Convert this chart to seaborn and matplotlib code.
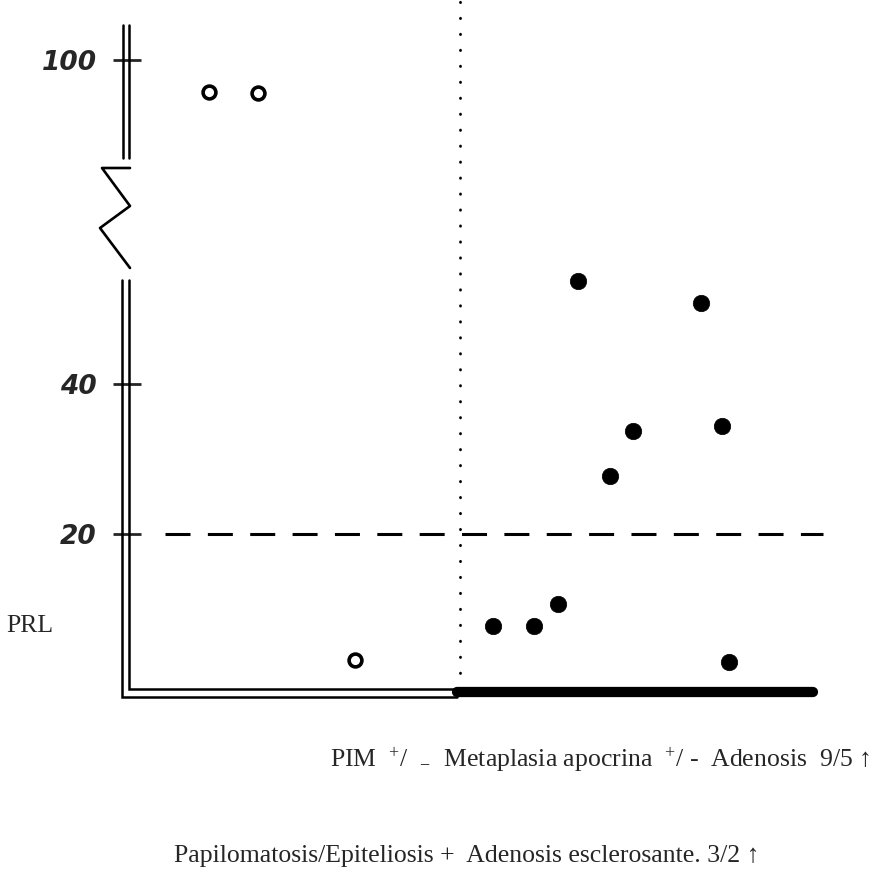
import numpy as np
import pandas as pd
import matplotlib
matplotlib.use("Agg")
import matplotlib.pyplot as plt
from matplotlib.transforms import Affine2D
import seaborn as sns

# ---------------- data ----------------
open_x = [1.25, 1.95, 3.34]
open_prl = [95.7, 95.6, 3.2]
fill_x = [5.31, 5.89, 6.24, 6.52, 6.98, 7.31, 8.28, 8.58, 8.68]
fill_prl = [7.7, 7.7, 10.7, 53.7, 27.7, 33.7, 50.8, 34.4, 2.9]
ytick_vals = [20, 40, 100]
ytick_labels = ["20", "40", "100"]
threshold = 20
divider_x = 4.84
y_label = "PRL"
caption1 = r"PIM  $^{+}$/  $_{-}$  Metaplasia apocrina  $^{+}$/ -  Adenosis  9/5 ↑"
caption2 = "Papilomatosis/Epiteliosis +  Adenosis esclerosante. 3/2 ↑"

df_open = pd.DataFrame({"x": open_x, "PRL": open_prl})
df_fill = pd.DataFrame({"x": fill_x, "PRL": fill_prl})

sns.set_style("white")
plt.rcParams["lines.scale_dashes"] = False
plt.rcParams["mathtext.fontset"] = "custom"
plt.rcParams["mathtext.rm"] = "Liberation Serif"
plt.rcParams["mathtext.it"] = "Liberation Serif:italic"

W, H = 887, 871
fig = plt.figure(figsize=(W / 100, H / 100), dpi=100)
ax = fig.add_axes([0, 0, 1, 1])

# broken y axis: piecewise-linear scale that hides 55..85
def fwd(v):
    v = np.asarray(v, dtype=float)
    return np.where(v <= 55, v, np.where(v >= 85, v - 16.8, 55 + (v - 55) * (13.2 / 30)))

def inv(t):
    t = np.asarray(t, dtype=float)
    return np.where(t <= 55, t, np.where(t >= 68.2, t + 16.8, 55 + (t - 55) * (30 / 13.2)))

ax.set_yscale("function", functions=(fwd, inv))
ax.set_xlim(-1.736, 10.936)
ax.set_ylim(-24.93, 108.0)

# pixel transform for decorations
pix = Affine2D().scale(1 / W, -1 / H).translate(0, 1) + fig.transFigure

# points
sns.scatterplot(data=df_open, x="x", y="PRL", ax=ax, s=85, color="white",
                edgecolor="black", linewidth=2.6, zorder=5, legend=False)
sns.scatterplot(data=df_fill, x="x", y="PRL", ax=ax, s=140, color="black",
                edgecolor="black", linewidth=0.5, zorder=5, legend=False)

# threshold dashed line
ax.plot([0.62, 10.02], [threshold, threshold], color="black", lw=2.2,
        dashes=[18, 12.5], solid_capstyle="butt")

# dotted divider
ax.plot([divider_x, divider_x], [1.5, 108.0], color="black", lw=2.0,
        dashes=[0.3, 11.2], dash_capstyle="round")

# double axis lines (lower part)
lw_ax = 1.8
ax.plot([0.0, 0.0, divider_x - 0.05], [53.9, -1.73, -1.73], color="black", lw=lw_ax,
        solid_joinstyle="miter")
ax.plot([0.1, 0.1, divider_x - 0.05], [53.9, -0.67, -0.67], color="black", lw=lw_ax,
        solid_joinstyle="miter")
# upper part
ax.plot([0.02, 0.02], [86.9, 104.7], color="black", lw=lw_ax)
ax.plot([0.11, 0.11], [86.9, 104.7], color="black", lw=lw_ax)
# thick bar for second group
ax.plot([divider_x - 0.05, 9.88], [-1.1, -1.1], color="black", lw=7.4,
        solid_capstyle="round")

# zigzag break mark
zz_x = [130, 102, 130, 100, 130]
zz_y = [168, 168, 206, 228, 268]
ax.plot(zz_x, zz_y, color="black", lw=1.9, transform=pix, clip_on=False)

# ticks
for s in ax.spines.values():
    s.set_visible(False)
ax.spines["left"].set_position(("data", 0.08))
ax.set_yticks(ytick_vals)
ax.set_yticklabels(ytick_labels, fontstyle="italic", fontweight="bold",
                   fontfamily="DejaVu Sans")
ax.set_xticks([])
ax.tick_params(axis="y", direction="inout", length=20, width=2.0, pad=12,
               labelsize=19, left=True)
ax.yaxis.set_minor_locator(matplotlib.ticker.NullLocator())
ax.set_xlabel("")
ax.set_ylabel("")

# texts
serif = ["Liberation Serif", "DejaVu Serif"]
fig.text(6 / W, 1 - 632 / H, y_label, fontsize=18.5, family=serif, va="baseline")
fig.text(330 / W, 1 - 767 / H, caption1, fontsize=18.5, family=serif, va="baseline")
fig.text(174 / W, 1 - 862 / H, caption2, fontsize=18.5, family=serif, va="baseline")

fig.savefig("out.png", dpi=100, facecolor="white")
